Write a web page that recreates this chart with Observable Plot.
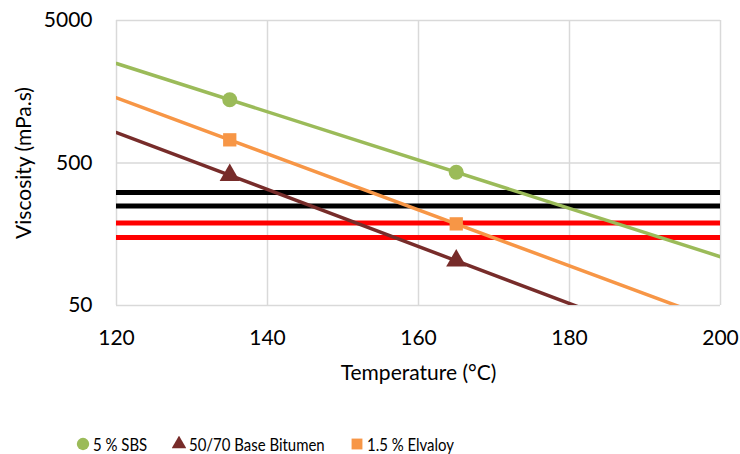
<!DOCTYPE html>
<html>
<head>
<meta charset="utf-8">
<script src="https://cdn.jsdelivr.net/npm/d3@7"></script>
<script src="https://cdn.jsdelivr.net/npm/@observablehq/plot@0.6"></script>
<style>
  body { margin: 0; background: #fff; font-family: Lato, "Open Sans", sans-serif; }
  #chart svg { display: block; }
  #legend { height: 26px; display: flex; align-items: center; padding-left: 76px; font-size: 18px; color: #000; }
  #legend .item { display: flex; align-items: center; margin-right: 25px; }
  #legend svg { margin-right: 3px; }
  #legend span { display: inline-block; white-space: nowrap; transform-origin: left center; }
</style>
</head>
<body>
<div id="chart"></div>
<div id="legend"></div>
<script>
// Data
const temps = [135, 165];
const seriesNames = ["5 % SBS", "50/70 Base Bitumen", "1.5 % Elvaloy"];
const sbs = [1390, 431];
const base = [410, 103];
const elvaloy = [727, 187];
const blackLimits = [310, 250];
const redLimits = [190, 150];
const xTicks = [120, 140, 160, 180, 200];
const yTicks = [50, 500, 5000];
const colors = ["#9BBB59", "#772C2A", "#F79646"];
const symbols = ["circle", "triangle", "square"];

const seriesValues = [sbs, base, elvaloy];
const points = [];
seriesValues.forEach((vals, i) => vals.forEach((v, j) => points.push({series: seriesNames[i], t: temps[j], v})));

// Exponential trend line (least squares in log space) evaluated across the x domain
const trend = [];
seriesValues.forEach((vals, i) => {
  const xs = temps, ys = vals.map(Math.log);
  const mx = d3.mean(xs), my = d3.mean(ys);
  const b = d3.sum(xs.map((x, k) => (x - mx) * (ys[k] - my))) / d3.sum(xs.map(x => (x - mx) ** 2));
  const a = my - b * mx;
  [xTicks[0], xTicks[xTicks.length - 1]].forEach(t => trend.push({series: seriesNames[i], t, v: Math.exp(a + b * t)}));
});

const font = "Lato, 'Open Sans', sans-serif";
const chart = Plot.plot({
  width: 740,
  height: 431,
  marginLeft: 116,
  marginRight: 20,
  marginTop: 20,
  marginBottom: 126,
  style: {fontFamily: font, fontSize: "21px", color: "#000", background: "#fff"},
  x: {domain: [120, 200], ticks: xTicks},
  y: {type: "log", domain: [50, 5000], ticks: yTicks},
  color: {domain: seriesNames, range: colors},
  symbol: {domain: seriesNames, range: symbols},
  marks: [
    Plot.gridX(xTicks, {stroke: "#d9d9d9", strokeOpacity: 1, strokeWidth: 1.5}),
    Plot.gridY(yTicks, {stroke: "#d9d9d9", strokeOpacity: 1, strokeWidth: 1.5}),
    Plot.ruleY(blackLimits, {stroke: "#000", strokeWidth: 5}),
    Plot.ruleY(redLimits, {stroke: "#ff0000", strokeWidth: 5}),
    Plot.line(trend, {x: "t", y: "v", z: "series", stroke: "series", strokeWidth: 3.5, clip: true}),
    Plot.dot(points, {x: "t", y: "v", fill: "series", symbol: "series", r: 7.5, stroke: null}),
    Plot.axisX({ticks: xTicks, tickSize: 0, tickPadding: 25, label: null, tickFormat: d => String(d)}),
    Plot.axisY({ticks: yTicks, tickSize: 0, tickPadding: 24, label: null, tickFormat: d => String(d)}),
    Plot.text(["Temperature (°C)"], {frameAnchor: "bottom", dy: 60, lineAnchor: "top", fontSize: 21}),
    Plot.text(["Viscosity (mPa.s)"], {frameAnchor: "left", dx: -92, rotate: -90, textAnchor: "middle", fontSize: 21})
  ]
});
document.getElementById("chart").appendChild(chart);

// Legend
const legend = document.getElementById("legend");
const squeeze = 0.83;
seriesNames.forEach((name, i) => {
  const item = document.createElement("div");
  item.className = "item";
  const s = d3.create("svg").attr("width", 14).attr("height", 16);
  const sym = d3.symbol(symbols[i] === "circle" ? d3.symbolCircle : symbols[i] === "triangle" ? d3.symbolTriangle2 : d3.symbolSquare2, symbols[i] === "circle" ? 120 : 150)();
  s.append("path").attr("d", sym).attr("transform", "translate(7,8)").attr("fill", colors[i]);
  item.appendChild(s.node());
  const label = document.createElement("span");
  label.textContent = name;
  item.appendChild(label);
  legend.appendChild(item);
  const w = label.getBoundingClientRect().width;
  label.style.width = (w * squeeze) + "px";
  label.style.transform = `scaleX(${squeeze})`;
});
</script>
</body>
</html>
